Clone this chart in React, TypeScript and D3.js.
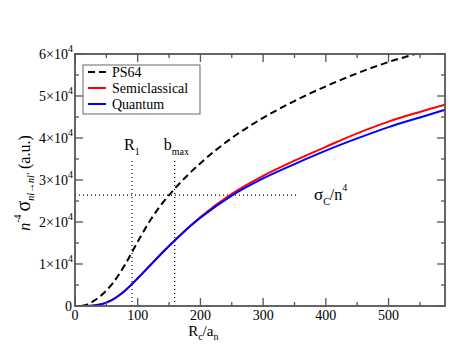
import React from 'react';
import * as d3 from 'd3';

// Rc/an values where the curves were sampled
const ps64X = [10, 20, 30, 40, 50, 60, 70, 80, 90, 100, 120, 140, 160, 180, 200, 250, 300, 350, 400, 450, 500, 550, 590];
const ps64Y = [0, 400, 1200, 2300, 3700, 5400, 7500, 9900, 12600, 15300, 20400, 24600, 28100, 31200, 34000, 40000, 44800, 48800, 52300, 55400, 58100, 60300, 62000];

const semiX = [10, 20, 30, 40, 50, 60, 70, 80, 90, 100, 120, 140, 160, 180, 200, 250, 300, 350, 400, 450, 500, 550, 590];
const semiY = [0, 20, 100, 350, 800, 1500, 2500, 3700, 5100, 6600, 9700, 12800, 15800, 18600, 21200, 26700, 31000, 34600, 37900, 41100, 43900, 46200, 47900];

const quantX = [10, 20, 30, 40, 50, 60, 70, 80, 90, 100, 120, 140, 160, 180, 200, 250, 300, 350, 400, 450, 500, 550, 590];
const quantY = [0, 20, 100, 350, 800, 1500, 2500, 3700, 5100, 6600, 9700, 12800, 15700, 18500, 21000, 26300, 30400, 33800, 37000, 39900, 42600, 44900, 46700];

const xTicks = [0, 100, 200, 300, 400, 500];
const yTicks = [0, 1, 2, 3, 4, 5, 6];
const sigmaC = 26400;
const r1 = 91;
const bmax = 159;
const markTop = 35000;
const hLineEnd = 355;

const W = 471;
const H = 364;
const margin = { top: 54, right: 26, bottom: 58, left: 75 };

const App = () => {
  const x = d3.scaleLinear().domain([0, 590]).range([margin.left, W - margin.right]);
  const y = d3.scaleLinear().domain([0, 60000]).range([H - margin.bottom, margin.top]);

  const line = d3
    .line<[number, number]>()
    .x((d) => x(d[0]))
    .y((d) => y(d[1]))
    .curve(d3.curveMonotoneX);

  const toPts = (xs: number[], ys: number[]) => xs.map((v, i) => [v, ys[i]] as [number, number]);

  const x0 = x(0), x1 = x(590), y0 = y(0), y1 = y(60000);
  const minorX = d3.range(50, 590, 100);
  const minorY = d3.range(5000, 60000, 10000);
  const font = "'Liberation Serif', 'Times New Roman', Times, 'DejaVu Serif', serif";
  const axisColor = '#555';

  const legend = [
    { label: 'PS64', color: '#000', dash: '7,4' },
    { label: 'Semiclassical', color: '#ff0000', dash: null },
    { label: 'Quantum', color: '#0000ff', dash: null },
  ];

  return (
    <svg width={W} height={H} style={{ position: 'absolute', left: 0, top: 0 }}>
      <rect width={W} height={H} fill="#fff" />
      <defs>
        <clipPath id="plot">
          <rect x={x0} y={y1} width={x1 - x0} height={y0 - y1} />
        </clipPath>
      </defs>

      {/* reference lines */}
      <g stroke="#000" strokeWidth={1.2} strokeDasharray="1,3" fill="none">
        <line x1={x(0)} x2={x(hLineEnd)} y1={y(sigmaC)} y2={y(sigmaC)} />
        <line x1={x(r1)} x2={x(r1)} y1={y(0)} y2={y(markTop)} />
        <line x1={x(bmax)} x2={x(bmax)} y1={y(0)} y2={y(markTop)} />
      </g>

      {/* curves */}
      <g clipPath="url(#plot)" fill="none">
        <path d={line(toPts(ps64X, ps64Y)) || ''} stroke="#000" strokeWidth={2} strokeDasharray="7,4" />
        <path d={line(toPts(semiX, semiY)) || ''} stroke="#ff0000" strokeWidth={2} />
        <path d={line(toPts(quantX, quantY)) || ''} stroke="#0000ff" strokeWidth={2} />
      </g>

      {/* frame and ticks */}
      <rect x={x0} y={y1} width={x1 - x0} height={y0 - y1} fill="none" stroke={axisColor} strokeWidth={1.8} />
      <g stroke={axisColor} strokeWidth={1.3}>
        {xTicks.map((t) => (
          <g key={'xt' + t}>
            <line x1={x(t)} x2={x(t)} y1={y0} y2={y0 - 8} />
            <line x1={x(t)} x2={x(t)} y1={y1} y2={y1 + 8} />
          </g>
        ))}
        {minorX.map((t) => (
          <g key={'xm' + t}>
            <line x1={x(t)} x2={x(t)} y1={y0} y2={y0 - 4} />
            <line x1={x(t)} x2={x(t)} y1={y1} y2={y1 + 4} />
          </g>
        ))}
        {yTicks.map((t) => (
          <g key={'yt' + t}>
            <line x1={x0} x2={x0 + 8} y1={y(t * 10000)} y2={y(t * 10000)} />
            <line x1={x1} x2={x1 - 8} y1={y(t * 10000)} y2={y(t * 10000)} />
          </g>
        ))}
        {minorY.map((t) => (
          <g key={'ym' + t}>
            <line x1={x0} x2={x0 + 4} y1={y(t)} y2={y(t)} />
            <line x1={x1} x2={x1 - 4} y1={y(t)} y2={y(t)} />
          </g>
        ))}
      </g>

      <g fontFamily={font} fill="#000">
        {/* tick labels */}
        <g fontSize={14}>
          {xTicks.map((t) => (
            <text key={'xl' + t} x={x(t)} y={y0 + 14} textAnchor="middle">
              {t}
            </text>
          ))}
          {yTicks.map((t) =>
            t === 0 ? (
              <text key={'yl' + t} x={x0 - 3} y={y(0) + 5} textAnchor="end">0</text>
            ) : (
              <text key={'yl' + t} x={x0 - 2} y={y(t * 10000) + 5} textAnchor="end">
                {t}×10<tspan fontSize={10} dy={-7}>4</tspan>
              </text>
            )
          )}
        </g>

        {/* axis titles */}
        <text x={x(190) - 6} y={y0 + 30} fontSize={15}>
          R<tspan fontSize={10} dy={4}>c</tspan>
          <tspan dy={-4}>/a</tspan>
          <tspan fontSize={10} dy={4}>n</tspan>
        </text>
        <text transform={`translate(30,${(y0 + y1) / 2 + 3}) rotate(-90)`} fontSize={16} textAnchor="middle">
          <tspan fontStyle="italic">n</tspan>
          <tspan fontSize={10} dy={-9}>-4</tspan>
          <tspan dy={9} fontSize={20} dx={3}>σ</tspan>
          <tspan fontSize={10} dy={4} fontStyle="italic">nl→nl′</tspan>
          <tspan dy={-4} dx={4}>(a.u.)</tspan>
        </text>

        {/* annotations */}
        <text x={x(r1) - 8} y={150} fontSize={16}>
          R<tspan fontSize={10} dy={5}>1</tspan>
        </text>
        <text x={x(bmax) - 11} y={150} fontSize={16}>
          b<tspan fontSize={10} dy={5}>max</tspan>
        </text>
        <text x={314} y={200} fontSize={17}>
          σ<tspan fontSize={10} dy={5}>C</tspan>
          <tspan dy={-5} fontSize={16}>/n</tspan>
          <tspan fontSize={10} dy={-9}>4</tspan>
        </text>

        {/* legend */}
        <rect x={83} y={65} width={117} height={49} fill="#fff" stroke="#666" strokeWidth={1} />
        {legend.map((l, i) => (
          <g key={l.label}>
            <line x1={88} x2={106} y1={72 + i * 16} y2={72 + i * 16} stroke={l.color} strokeWidth={2} strokeDasharray={l.dash || undefined} />
            <text x={112} y={77 + i * 16} fontSize={14}>{l.label}</text>
          </g>
        ))}
      </g>
    </svg>
  );
};

export default App;
